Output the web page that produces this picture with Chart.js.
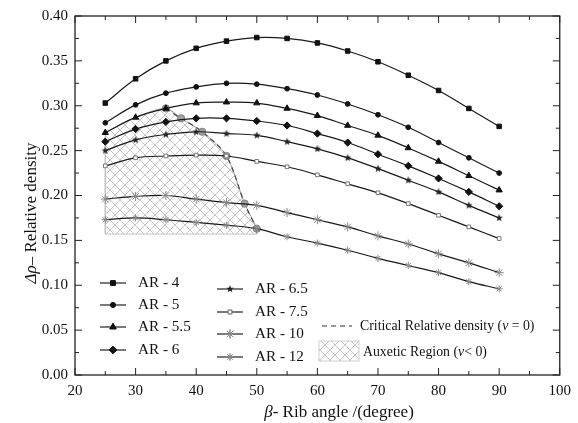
<!DOCTYPE html>
<html>
<head>
<meta charset="utf-8">
<script src="https://cdn.jsdelivr.net/npm/chart.js@4/dist/chart.umd.min.js"></script>
<style>
  html, body { margin: 0; padding: 0; background: #fff; }
  #wrap { width: 578px; height: 423px; }
</style>
</head>
<body>
<div id="wrap"><canvas id="myChart" width="578" height="423"></canvas></div>
<script>
// rib angle (x) values
var angles = [25, 30, 35, 40, 45, 50, 55, 60, 65, 70, 75, 80, 85, 90];

// relative density for each aspect ratio
var ar4  = [0.303, 0.330, 0.350, 0.364, 0.372, 0.376, 0.375, 0.370, 0.361, 0.349, 0.334, 0.317, 0.297, 0.277];
var ar5  = [0.281, 0.301, 0.314, 0.321, 0.325, 0.324, 0.319, 0.312, 0.302, 0.290, 0.276, 0.259, 0.242, 0.225];
var ar55 = [0.270, 0.287, 0.297, 0.303, 0.304, 0.303, 0.297, 0.289, 0.278, 0.267, 0.253, 0.238, 0.222, 0.206];
var ar6  = [0.260, 0.274, 0.282, 0.286, 0.286, 0.283, 0.278, 0.269, 0.259, 0.246, 0.233, 0.219, 0.204, 0.188];
var ar65 = [0.250, 0.262, 0.268, 0.271, 0.269, 0.267, 0.260, 0.252, 0.242, 0.230, 0.217, 0.204, 0.189, 0.175];
var ar75 = [0.233, 0.242, 0.244, 0.245, 0.244, 0.238, 0.232, 0.223, 0.213, 0.203, 0.191, 0.178, 0.165, 0.152];
var ar10 = [0.196, 0.199, 0.200, 0.196, 0.192, 0.189, 0.181, 0.173, 0.165, 0.155, 0.146, 0.135, 0.125, 0.114];
var ar12 = [0.173, 0.175, 0.173, 0.170, 0.167, 0.163, 0.154, 0.147, 0.139, 0.130, 0.122, 0.114, 0.104, 0.096];

// critical relative density (nu = 0)
var critX = [35, 37.5, 41, 45, 48, 50];
var critY = [0.297, 0.286, 0.271, 0.244, 0.191, 0.163];

// auxetic region outline
var auxX = [25, 30, 35, 37.5, 41, 45, 48, 50, 50];
var auxY = [0.270, 0.287, 0.297, 0.286, 0.271, 0.244, 0.191, 0.163, 0.157];
var auxBase = 0.157;

var xTicks = [20, 30, 40, 50, 60, 70, 80, 90, 100];
var yTicks = [0.00, 0.05, 0.10, 0.15, 0.20, 0.25, 0.30, 0.35, 0.40];

var serif = '"Liberation Serif", "DejaVu Serif", serif';

function pts(xs, ys) {
    var out = [];
    for (let i = 0; i < xs.length; i++) out.push({x: xs[i], y: ys[i]});
    return out;
}

function starMark(r, color) {
    var c = document.createElement('canvas');
    c.width = c.height = 2 * r + 2;
    var g = c.getContext('2d');
    g.fillStyle = color;
    g.beginPath();
    for (let i = 0; i < 10; i++) {
        let a = -Math.PI / 2 + i * Math.PI / 5;
        let rr = i % 2 ? r * 0.42 : r;
        let px = r + 1 + rr * Math.cos(a), py = r + 1 + rr * Math.sin(a);
        if (i == 0) g.moveTo(px, py); else g.lineTo(px, py);
    }
    g.closePath();
    g.fill();
    return c;
}

function hatch() {
    var c = document.createElement('canvas');
    c.width = c.height = 10;
    var g = c.getContext('2d');
    g.strokeStyle = '#b8b8b8';
    g.lineWidth = 0.8;
    g.beginPath();
    g.moveTo(0, 0); g.lineTo(10, 10);
    g.moveTo(10, 0); g.lineTo(0, 10);
    g.stroke();
    return g.createPattern(c, 'repeat');
}

var hatchPattern = hatch();
var star65 = starMark(4, '#222');

function arSet(label, ys, style, radius, color, fill) {
    return {
        label: label,
        data: pts(angles, ys),
        borderColor: '#1a1a1a',
        borderWidth: 1.2,
        tension: 0.4,
        pointStyle: style,
        pointRadius: radius,
        pointBorderColor: color,
        pointBackgroundColor: fill,
        pointBorderWidth: 1,
        fill: false
    };
}

var datasets = [
    arSet('AR - 4', ar4, 'rect', 3.2, '#111', '#111'),
    arSet('AR - 5', ar5, 'circle', 2.4, '#111', '#111'),
    arSet('AR - 5.5', ar55, 'triangle', 3.6, '#111', '#111'),
    arSet('AR - 6', ar6, 'rectRot', 3.6, '#111', '#111'),
    arSet('AR - 6.5', ar65, star65, 4, '#111', '#111'),
    arSet('AR - 7.5', ar75, 'rect', 2.6, '#777', '#fff'),
    arSet('AR - 10', ar10, 'star', 4.5, '#888', '#888'),
    arSet('AR - 12', ar12, 'star', 3.5, '#888', '#888'),
    {
        label: 'Critical Relative density',
        data: pts(critX, critY),
        borderColor: '#444',
        borderWidth: 1.2,
        borderDash: [5, 4],
        tension: 0.3,
        pointStyle: 'circle',
        pointRadius: 3.6,
        pointBackgroundColor: '#a0a0a0',
        pointBorderColor: '#808080',
        pointBorderWidth: 1,
        fill: false
    },
    {
        label: 'Auxetic Region',
        data: pts(auxX, auxY),
        borderColor: '#9a9a9a',
        borderWidth: 1,
        tension: 0.3,
        pointRadius: 0,
        backgroundColor: hatchPattern,
        fill: {value: auxBase}
    },
    {
        label: 'aux-edge',
        data: [{x: 25, y: auxY[0]}, {x: 25, y: auxBase}, {x: 50, y: auxBase}],
        borderColor: '#c4c4c4',
        borderWidth: 1,
        tension: 0,
        pointRadius: 0,
        fill: false
    }
];

function drawParts(ctx, parts, x, y, size, align) {
    var total = 0;
    parts.forEach(function (p) {
        ctx.font = (p[1] ? 'italic ' : '') + size + 'px ' + serif;
        total += ctx.measureText(p[0]).width;
    });
    var cx = align == 'center' ? x - total / 2 : x;
    ctx.textAlign = 'left';
    ctx.textBaseline = 'middle';
    parts.forEach(function (p) {
        ctx.font = (p[1] ? 'italic ' : '') + size + 'px ' + serif;
        ctx.fillText(p[0], cx, y);
        cx += ctx.measureText(p[0]).width;
    });
}

function mark(ctx, ds, x, y) {
    var st = ds.pointStyle;
    ctx.save();
    ctx.fillStyle = ds.pointBackgroundColor;
    ctx.strokeStyle = ds.pointBorderColor;
    ctx.lineWidth = 1;
    if (typeof st !== 'string') {
        ctx.drawImage(st, x - st.width / 2, y - st.height / 2);
    } else if (Chart.helpers && Chart.helpers.drawPoint) {
        Chart.helpers.drawPoint(ctx, {pointStyle: st, radius: ds.pointRadius, rotation: 0, borderWidth: 1}, x, y);
        if (st != 'star') ctx.fill();
        ctx.stroke();
    } else {
        ctx.fillRect(x - 3, y - 3, 6, 6);
    }
    ctx.restore();
}

var framePlugin = {
    id: 'frame',
    afterDatasetsDraw: function (chart) {
        var ctx = chart.ctx, a = chart.chartArea;
        var xs = chart.scales.x, ys = chart.scales.y;
        ctx.save();
        ctx.strokeStyle = '#222';
        ctx.lineWidth = 1.3;
        ctx.strokeRect(a.left, a.top, a.right - a.left, a.bottom - a.top);
        ctx.lineWidth = 1;
        ctx.beginPath();
        for (let v = 20; v <= 100; v += 5) {
            let px = xs.getPixelForValue(v);
            let len = v % 10 == 0 ? 7 : 4;
            ctx.moveTo(px, a.bottom); ctx.lineTo(px, a.bottom - len);
            ctx.moveTo(px, a.top); ctx.lineTo(px, a.top + len);
        }
        for (let k = 0; k <= 16; k++) {
            let py = ys.getPixelForValue(k * 0.025);
            let len = k % 2 == 0 ? 7 : 4;
            ctx.moveTo(a.left, py); ctx.lineTo(a.left + len, py);
            ctx.moveTo(a.right, py); ctx.lineTo(a.right - len, py);
        }
        ctx.stroke();
        ctx.restore();
    },
    afterDraw: function (chart) {
        var ctx = chart.ctx;
        var ds = chart.data.datasets;
        ctx.save();
        ctx.fillStyle = '#111';

        // axis titles
        drawParts(ctx, [['\u03B2', true], ['- Rib angle /(degree)', false]], 339, 413, 17, 'center');
        ctx.save();
        ctx.translate(32, 213);
        ctx.rotate(-Math.PI / 2);
        drawParts(ctx, [['\u0394\u03C1', true], ['\u2013 Relative density', false]], 0, 0, 17, 'center');
        ctx.restore();

        // legend, two columns
        var col1 = [[0, 283], [1, 305], [2, 327], [3, 350]];
        var col2 = [[4, 289], [5, 312], [6, 334], [7, 357]];
        function row(item, x0) {
            var d = ds[item[0]], y = item[1];
            ctx.strokeStyle = '#222';
            ctx.lineWidth = 1.2;
            ctx.beginPath();
            ctx.moveTo(x0, y); ctx.lineTo(x0 + 26, y);
            ctx.stroke();
            mark(ctx, d, x0 + 13, y);
            ctx.fillStyle = '#111';
            drawParts(ctx, [[d.label, false]], x0 + 38, y, 15.2, 'left');
        }
        col1.forEach(function (it) { row(it, 100); });
        col2.forEach(function (it) { row(it, 217); });

        // critical density entry
        ctx.strokeStyle = '#333';
        ctx.lineWidth = 1.2;
        ctx.setLineDash([5, 4]);
        ctx.beginPath();
        ctx.moveTo(322, 326); ctx.lineTo(352, 326);
        ctx.stroke();
        ctx.setLineDash([]);
        drawParts(ctx, [['Critical Relative density (', false], ['\u03BD', true], [' = 0)', false]], 360, 326, 13.8, 'left');

        // auxetic region entry
        ctx.fillStyle = hatchPattern;
        ctx.fillRect(319, 341, 40, 20);
        ctx.strokeStyle = '#d0d0d0';
        ctx.lineWidth = 1;
        ctx.strokeRect(319, 341, 40, 20);
        ctx.fillStyle = '#111';
        drawParts(ctx, [['Auxetic Region (', false], ['\u03BD', true], ['< 0)', false]], 363, 352, 13.8, 'left');
        ctx.restore();
    }
};

var ctx = document.getElementById('myChart');

var myChart = new Chart(ctx, {
    type: 'line',
    data: {datasets: datasets},
    options: {
        responsive: false,
        animation: false,
        events: [],
        layout: {padding: {top: 15, right: 18, left: 0, bottom: 0}},
        plugins: {
            legend: {display: false},
            tooltip: {enabled: false}
        },
        scales: {
            x: {
                type: 'linear',
                min: 20,
                max: 100,
                afterFit: function (s) { s.height = 48; },
                afterBuildTicks: function (s) { s.ticks = xTicks.map(function (v) { return {value: v}; }); },
                grid: {display: false, drawTicks: false},
                border: {display: false},
                ticks: {
                    padding: 7,
                    color: '#111',
                    font: {family: serif, size: 15},
                    callback: function (v) { return String(v); }
                }
            },
            y: {
                type: 'linear',
                min: 0,
                max: 0.4,
                afterFit: function (s) { s.width = 75; },
                afterBuildTicks: function (s) { s.ticks = yTicks.map(function (v) { return {value: v}; }); },
                grid: {display: false, drawTicks: false},
                border: {display: false},
                ticks: {
                    padding: 7,
                    color: '#111',
                    font: {family: serif, size: 15},
                    callback: function (v) { return Number(v).toFixed(2); }
                }
            }
        }
    },
    plugins: [framePlugin]
});
</script>
</body>
</html>
